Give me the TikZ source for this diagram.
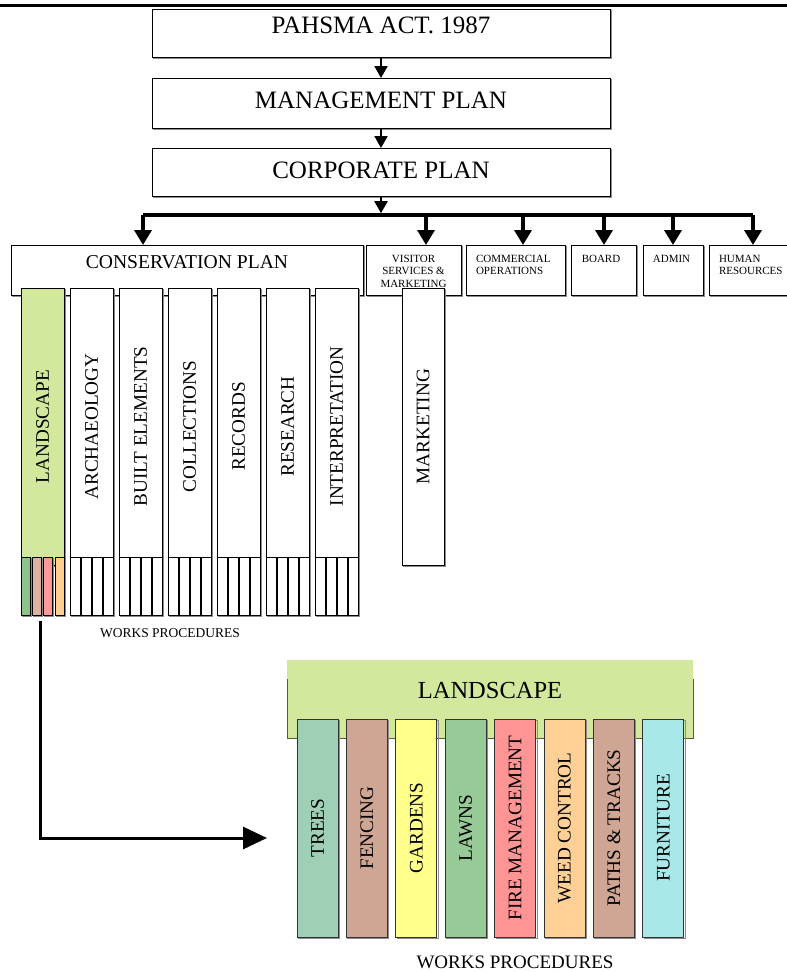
\documentclass[tikz,border=0pt]{standalone}
\usepackage{fontspec}
\setmainfont{Liberation Serif}
\usetikzlibrary{arrows.meta}
\definecolor{lgreen}{HTML}{D2E89C}
\definecolor{ctrees}{HTML}{9FD0B6}
\definecolor{cfence}{HTML}{CFA593}
\definecolor{cgarden}{HTML}{FFFF8C}
\definecolor{clawn}{HTML}{98CA98}
\definecolor{cfire}{HTML}{FF9494}
\definecolor{cweed}{HTML}{FFD095}
\definecolor{cpath}{HTML}{CFA593}
\definecolor{cfurn}{HTML}{A8E8E8}
\definecolor{tgreen}{HTML}{8CC48C}
\definecolor{tbrown}{HTML}{DBB3A0}
\definecolor{tred}{HTML}{FF9999}
\definecolor{torange}{HTML}{FFCF8F}
\definecolor{olivedark}{HTML}{555A3A}
\begin{document}
\begin{tikzpicture}[x=1pt,y=-1pt,
  shadowed/.style={preaction={draw=black!45, line width=0.8pt,
      transform canvas={shift={(1.3pt,-1.3pt)}}}},
  box/.style={shadowed, draw=black, line width=0.8pt, fill=white, inner sep=0pt, outer sep=0pt},
  big/.style={font=\fontsize{25}{29}\selectfont},
  mid/.style={font=\fontsize{19.6}{23}\selectfont},
  small/.style={font=\fontsize{11}{12.5}\selectfont, inner sep=0pt, outer sep=0pt},
  vtxt/.style={font=\fontsize{19.2}{22}\selectfont, rotate=90, inner sep=0pt},
  wp/.style={inner sep=0pt},
  arr/.style={line width=2pt, -{Triangle[length=12pt,width=13pt]}},
  drop/.style={line width=3.5pt, -{Triangle[length=15pt,width=17pt]}},
  bus/.style={line width=3.5pt},
  bigarrow/.style={line width=3pt, -{Triangle[length=24pt,width=22pt]}},
  col/.style={box, minimum width=43pt, minimum height=277pt, anchor=north west},
  tab/.style={box, minimum width=10pt, minimum height=58pt, anchor=north west},
  sub/.style={shadowed, draw=black!80, line width=0.8pt, inner sep=0pt, outer sep=0pt,
              minimum width=41pt, minimum height=218pt, anchor=north west}
]
\useasboundingbox (0,0) rectangle (787,972);

% top rule
\coordinate (ruleL) at (0,5.5);
\coordinate (ruleR) at (787,5.5);
\draw[line width=2.5pt] (ruleL) -- (ruleR);

% top chain
\node[box, big, minimum width=458pt, minimum height=48pt, anchor=north west,
      text height=16.5pt, text depth=15pt] (act) at (152,9) {PAHSMA ACT. 1987};
\node[box, big, minimum width=458pt, minimum height=50pt, anchor=north west,
      text height=16.5pt, text depth=6pt] (mgmt) at (152,78) {MANAGEMENT PLAN};
\node[box, big, minimum width=458pt, minimum height=48pt, anchor=north west,
      text height=16.5pt, text depth=4pt] (corp) at (152,148) {CORPORATE PLAN};
\draw[arr] (act) -- (mgmt);
\draw[arr] (mgmt) -- (corp);

% bus
\coordinate (busL) at (143,215);
\coordinate (busR) at (753,215);
\draw[arr, shorten >=1.8pt] (corp.south) -- (corp.south |- busL);

% second row boxes
\node[box, mid, minimum width=352pt, minimum height=50pt, anchor=north west,
      text height=13pt, text depth=16pt] (cons) at (11,245) {CONSERVATION PLAN};
\node[box, minimum width=95pt, minimum height=50pt, anchor=north west] (vis) at (366,245) {};
\node[box, minimum width=99pt, minimum height=50pt, anchor=north west] (comm) at (466,245) {};
\node[box, minimum width=65pt, minimum height=50pt, anchor=north west] (board) at (571,245) {};
\node[box, minimum width=60pt, minimum height=50pt, anchor=north west] (admin) at (643,245) {};
\node[box, minimum width=90pt, minimum height=50pt, anchor=north west] (hr) at (709,245) {};

\node[small, align=center, anchor=north] (vist) at (413.5,255) {VISITOR\\SERVICES \&\\MARKETING};
\node[small, align=left, anchor=north west] (commt) at (476,255) {COMMERCIAL\\OPERATIONS};
\node[small, anchor=north] (boardt) at (601,255) {BOARD};
\node[small, anchor=north] (admint) at (671.5,255) {ADMIN};
\node[small, align=left, anchor=north west] (hrt) at (719,255) {HUMAN\\RESOURCES};

\draw[bus] (busL) -- (busR);
\coordinate (dcons) at (143,215);
\coordinate (dvis) at (426,215);
\coordinate (dcomm) at (523,215);
\coordinate (dboard) at (604,215);
\coordinate (dadmin) at (673,215);
\coordinate (dhr) at (753,215);
\draw[drop] (dcons) -- (dcons |- cons.north);
\draw[drop] (dvis) -- (dvis |- vis.north);
\draw[drop] (dcomm) -- (dcomm |- comm.north);
\draw[drop] (dboard) -- (dboard |- board.north);
\draw[drop] (dadmin) -- (dadmin |- admin.north);
\draw[drop] (dhr) -- (dhr |- hr.north);

% conservation columns
\foreach \i/\lab/\fc in {0/LANDSCAPE/lgreen,1/ARCHAEOLOGY/white,2/BUILT ELEMENTS/white,
    3/COLLECTIONS/white,4/RECORDS/white,5/RESEARCH/white,6/INTERPRETATION/white}{
  \node[col, fill=\fc] (c\i) at ({21+49*\i},288) {};
  \node[vtxt] (ct\i) at (c\i.center) {\lab};
}
\foreach \i in {1,...,6}{
  \foreach \j in {0,...,3}{
    \node[tab] (t\i\j) at ({21+49*\i+11*\j},557) {};
  }
}
\node[tab, fill=tgreen, minimum width=9pt] (t00) at (21,557) {};
\node[tab, fill=tbrown, minimum width=9pt] (t01) at (32,557) {};
\node[tab, fill=tred, minimum width=9pt] (t02) at (43.5,557) {};
\node[tab, fill=torange, minimum width=9pt] (t03) at (55,557) {};

% marketing column
\node[col, minimum width=42pt] (mkt) at (402,288) {};
\node[vtxt] (mktt) at (mkt.center) {MARKETING};

\node[wp, font=\fontsize{13.5}{16}\selectfont] (wp1) at (170,633) {WORKS PROCEDURES};

% big arrow
\coordinate (arrS) at (40,621);
\coordinate (arrE) at (267,838);
\draw[bigarrow] (arrS) |- (arrE);

% lower landscape
\node[fill=lgreen, inner sep=0pt, outer sep=0pt, minimum width=406pt, minimum height=78pt,
      anchor=north west, font=\fontsize{24.5}{28}\selectfont,
      text height=16.5pt, text depth=18pt] (lhead) at (287,660) {LANDSCAPE};
\draw[olivedark, line width=0.9pt] ([yshift=-19pt]lhead.north west) -- (lhead.south west)
  -- (lhead.south east) -- ([yshift=-19pt]lhead.north east);

\foreach \i/\lab/\fc in {0/TREES/ctrees,1/FENCING/cfence,2/GARDENS/cgarden,3/LAWNS/clawn,
    4/FIRE MANAGEMENT/cfire,5/WEED CONTROL/cweed,6/PATHS \& TRACKS/cpath,7/FURNITURE/cfurn}{
  \node[sub, fill=\fc] (s\i) at ({297+49.4*\i},719) {};
  \node[vtxt] (st\i) at (s\i.center) {\lab};
}

\node[wp, font=\fontsize{19}{22}\selectfont] (wp2) at (515,962) {WORKS PROCEDURES};
\end{tikzpicture}
\end{document}
